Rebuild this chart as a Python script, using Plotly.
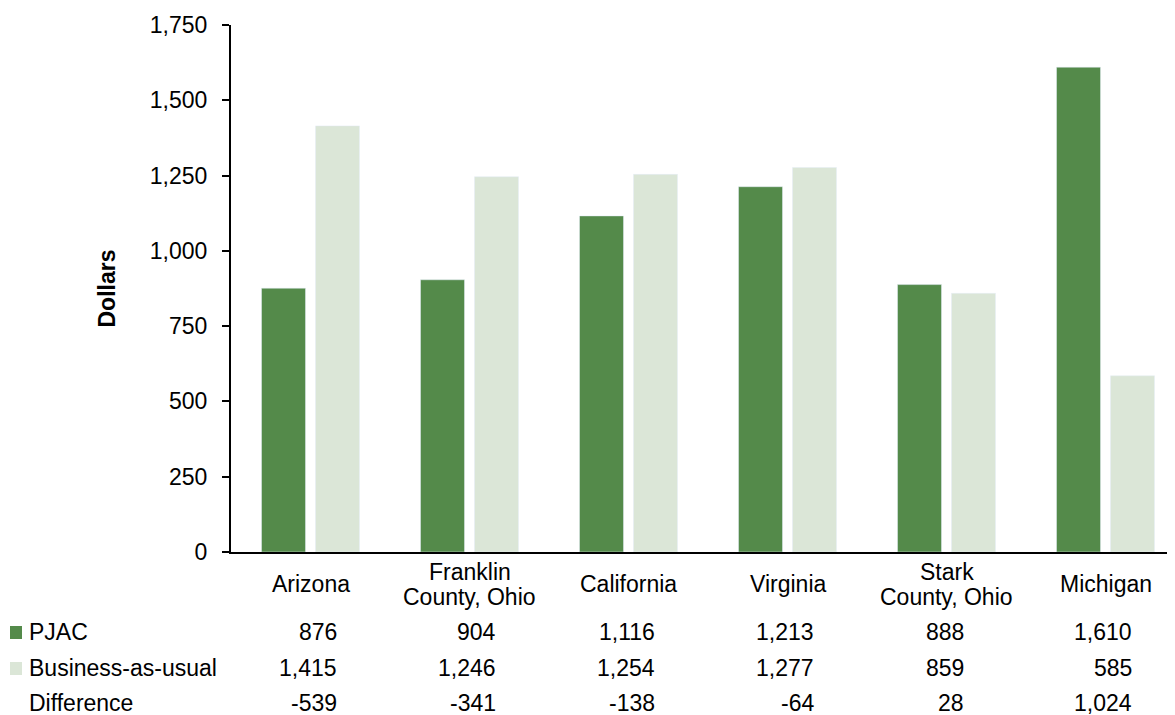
import plotly.graph_objects as go

categories = ["Arizona", "Franklin<br>County, Ohio", "California", "Virginia", "Stark<br>County, Ohio", "Michigan"]
pjac = [876, 904, 1116, 1213, 888, 1610]
bau = [1415, 1246, 1254, 1277, 859, 585]
difference = [-539, -341, -138, -64, 28, 1024]
series_names = ["PJAC", "Business-as-usual", "Difference"]
tick_vals = [0, 250, 500, 750, 1000, 1250, 1500, 1750]

DARK = "#548a4a"
LIGHT = "#dbe6d7"
FONT = "Liberation Sans, Arial, sans-serif"
FS = 23

# page body has an 8px margin; work in reference pixels and subtract it
OFF = 8
W, H = 1175 - OFF, 715 - OFF
L, R, T = 231 - OFF, 0, 25 - OFF
B = H - (552 - OFF)
ph = H - T - B
pw = W - L - R
# reference category pitch is ~159px; the axis runs past the right page edge
x_span = pw / 159.0

def py(y):
    return (H - B - (y - OFF)) / ph

def px(x):
    return (x - OFF - L) / pw

# Arial/Liberation advance widths (em) for number strings
CW = {",": 0.278, "-": 0.333}
def text_w(s):
    return sum(CW.get(ch, 0.556) for ch in s) * FS

fig = go.Figure()
fig.add_trace(go.Bar(x=categories, y=pjac, name=series_names[0], marker_color=DARK, showlegend=False))
fig.add_trace(go.Bar(x=categories, y=bau, name=series_names[1], marker_color=LIGHT, showlegend=False))

# category labels (vertically centred, tighter line spacing like the reference)
for c in categories:
    lines = c.split("<br>")
    n = len(lines)
    for i, ln in enumerate(lines):
        yc = 584 + (i - (n - 1) / 2) * 25
        fig.add_annotation(xref="x", yref="paper", x=c, y=py(yc), text=ln,
                           showarrow=False, xanchor="center", yanchor="middle",
                           font=dict(size=FS, color="black", family=FONT))

# data table: each column right-aligned, column block centred on its category
rows = [(632, pjac, DARK), (668, bau, LIGHT), (703, difference, None)]
col_shift = []
for j in range(len(categories)):
    strs = [f"{r[1][j]:,}" for r in rows]
    col_shift.append(max(text_w(s) for s in strs) / 2)

for (yy, vals, col), name in zip(rows, series_names):
    if col:
        fig.add_shape(type="rect", xref="paper", yref="paper",
                      x0=px(10), x1=px(22), y0=py(yy + 7), y1=py(yy - 6),
                      fillcolor=col, line_width=0)
    fig.add_annotation(xref="paper", yref="paper", x=px(27), y=py(yy), text=name,
                       showarrow=False, xanchor="left", yanchor="middle",
                       font=dict(size=FS, color="black", family=FONT))
    for c, v, sh in zip(categories, vals, col_shift):
        fig.add_annotation(xref="x", yref="paper", x=c, y=py(yy), text=f"{v:,}",
                           showarrow=False, xanchor="right", yanchor="middle", xshift=sh,
                           font=dict(size=FS, color="black", family=FONT))

fig.update_layout(
    width=W, height=H,
    margin=dict(l=L, r=R, t=T, b=B),
    plot_bgcolor="white", paper_bgcolor="white",
    barmode="group", bargap=0.321, bargroupgap=0.185,
    font=dict(family=FONT, size=FS, color="black"),
)
fig.update_xaxes(showline=True, linecolor="black", linewidth=2, ticks="",
                 showticklabels=False, range=[-0.5, -0.5 + x_span])
fig.update_yaxes(range=[0, 1750], tickvals=tick_vals, tickformat=",",
                 showline=True, linecolor="black", linewidth=2,
                 ticks="outside", ticklen=7, tickwidth=2, tickcolor="black",
                 showgrid=False, zeroline=False, ticklabelstandoff=10,
                 tickfont=dict(size=FS, family=FONT),
                 title=dict(text="<b>Dollars</b>", standoff=28, font=dict(size=FS, family=FONT)))

fig.write_html("out.html")
